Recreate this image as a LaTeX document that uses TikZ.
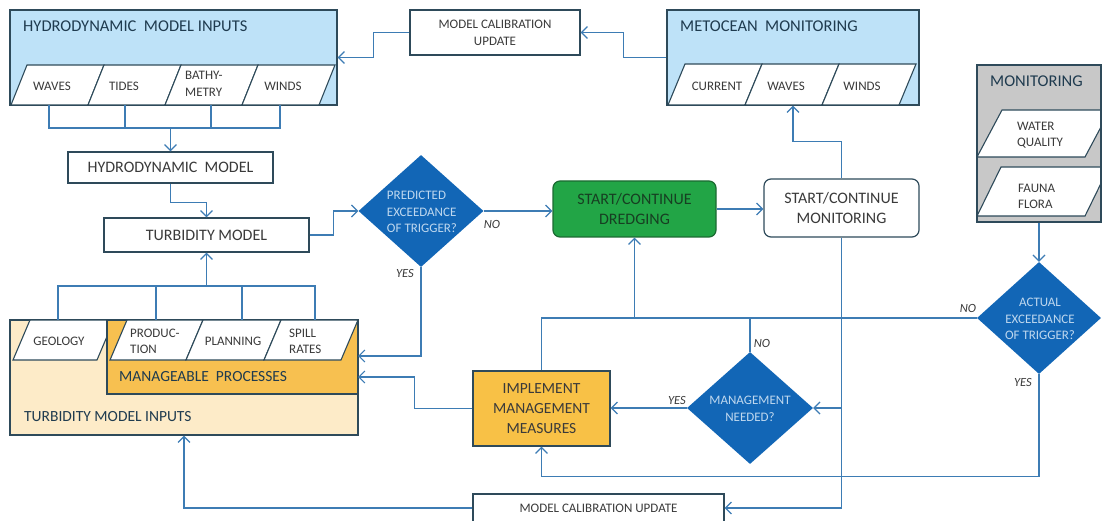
\documentclass[tikz,border=0pt]{standalone}
\usepackage{fontspec}
\setmainfont{Carlito}
\usetikzlibrary{arrows.meta,shapes.geometric}

\definecolor{edge}{HTML}{2E4A5A}
\definecolor{wire}{HTML}{3D7CB4}
\definecolor{skyfill}{HTML}{BEE2F8}
\definecolor{greyfill}{HTML}{C8C8C8}
\definecolor{peach}{HTML}{FDEBC8}
\definecolor{amber}{HTML}{F7C050}
\definecolor{amberbox}{HTML}{F8C146}
\definecolor{decision}{HTML}{1266B6}
\definecolor{decisiontext}{HTML}{BFD8EF}
\definecolor{dredgefill}{HTML}{22A546}
\definecolor{dredgeedge}{HTML}{1B6A31}
\definecolor{dredgetext}{HTML}{173F22}
\definecolor{titletext}{HTML}{1F3B4F}
\definecolor{labeltext}{HTML}{3A3A3A}

% parallelogram cell: bottom-left x, bottom y, width, height, slant
\newcommand{\plgm}[5]{\draw[stripcell] (#1,#2) -- ++(#3,0) -- ++(#5,-#4) -- ++(-#3,0) -- cycle;}

\begin{document}
\begin{tikzpicture}[x=1pt,y=-1pt,
  panel/.style={draw=edge, line width=1.2pt, inner sep=0, rectangle},
  box/.style={panel, fill=white, text=labeltext, align=center},
  stripcell/.style={draw=edge, line width=1.1pt, fill=white},
  decide/.style={diamond, fill=decision, draw=none, inner sep=0,
    minimum width=125, minimum height=112},
  dtext/.style={font=\fontsize{13}{16.5}\selectfont, text=decisiontext, align=center, inner sep=0},
  titletxt/.style={font=\fontsize{16.5}{19}\selectfont, text=titletext, anchor=west, inner sep=0},
  celltxt/.style={font=\fontsize{13}{16.5}\selectfont, text=labeltext, inner sep=0, align=center},
  celltxtl/.style={celltxt, align=left, anchor=west},
  answer/.style={font=\fontsize{12.5}{15}\selectfont\itshape, text=labeltext, inner sep=0},
  wire/.style={draw=wire, line width=1.4pt},
  flow/.style={wire, -{Straight Barb[length=6pt,width=12pt,line width=1.2pt]}}
]
\useasboundingbox (0,0) rectangle (1102,521);

% ---------------- hydrodynamic model inputs ----------------
\node[panel, fill=skyfill, minimum width=327, minimum height=95] (hyin) at (173.5,57.5) {};
\node[titletxt] (hyintitle) at (23,26) {HYDRODYNAMIC\ \ MODEL INPUTS};
\plgm{11}{105}{77}{40}{16}
\plgm{88}{105}{77}{40}{16}
\plgm{165}{105}{77}{40}{16}
\plgm{242}{105}{77}{40}{16}
\node[celltxt] (waves) at (52,86) {WAVES};
\node[celltxt] (tides) at (124,86) {TIDES};
\node[celltxtl] (bathy) at (185,84) {BATHY-\\METRY};
\node[celltxt] (winds) at (283,86) {WINDS};
\coordinate (waveB) at (49,105);
\coordinate (tideB) at (125,105);
\coordinate (bathyB) at (211,105);
\coordinate (windB) at (280,105);
\coordinate (hbus) at (171,128);

% ---------------- metocean monitoring ----------------
\node[panel, fill=skyfill, minimum width=252, minimum height=95] (meto) at (793,57.5) {};
\node[titletxt] (metotitle) at (680,26) {METOCEAN\ \ MONITORING};
\plgm{668}{105}{77}{41}{17}
\plgm{745}{105}{77}{41}{17}
\plgm{822}{105}{77}{41}{17}
\node[celltxt] (current) at (717,86) {CURRENT};
\node[celltxt] (mwaves) at (786,86) {WAVES};
\node[celltxt] (mwinds) at (862,86) {WINDS};

% ---------------- field monitoring ----------------
\node[panel, fill=greyfill, minimum width=124, minimum height=157] (monbox) at (1039,143.5) {};
\node[titletxt] (montitle) at (990,81) {MONITORING};
\begin{scope}
  \clip (977,65) rectangle (1101,222);
  \plgm{977}{157}{108}{47}{25}
  \plgm{977}{216}{108}{49}{24}
\end{scope}
\draw[draw=edge, line width=1.2pt] (977,65) rectangle (1101,222);
\node[celltxtl] (water) at (1017,135) {WATER\\QUALITY};
\node[celltxtl] (fauna) at (1018,196.5) {FAUNA\\FLORA};

% ---------------- calibration updates ----------------
\node[box, font=\fontsize{13}{17}\selectfont, minimum width=170, minimum height=45] (mcu1) at (495,32.5) {MODEL CALIBRATION\\UPDATE};
\node[box, font=\fontsize{13}{17}\selectfont, minimum width=251, minimum height=28] (mcu2) at (598.5,508) {MODEL CALIBRATION UPDATE};

% ---------------- models ----------------
\node[box, font=\fontsize{16}{19}\selectfont, minimum width=205, minimum height=31] (hm) at (170.5,167.5) {HYDRODYNAMIC\ \ MODEL};
\node[box, font=\fontsize{16}{19}\selectfont, minimum width=205, minimum height=34] (tm) at (206.5,235) {TURBIDITY MODEL};

% ---------------- turbidity model inputs ----------------
\node[panel, fill=peach, minimum width=348, minimum height=115] (tmi) at (184,377.5) {};
\plgm{13}{360}{84}{40}{17}
\node[panel, fill=amber, minimum width=251, minimum height=74] (manage) at (232.5,357) {};
\plgm{110}{360}{76}{40}{17}
\plgm{186}{360}{78}{40}{17}
\plgm{264}{360}{77}{40}{17}
\node[celltxt] (geology) at (59,341) {GEOLOGY};
\node[celltxtl] (produc) at (130,341.5) {PRODUC-\\TION};
\node[celltxt] (planning) at (233,341) {PLANNING};
\node[celltxtl] (spill) at (289,341.5) {SPILL\\RATES};
\node[titletxt, font=\fontsize{15.5}{19}\selectfont] (managetitle) at (119,377) {MANAGEABLE\ \ PROCESSES};
\node[titletxt, font=\fontsize{15.5}{19}\selectfont] (tmititle) at (24,417) {TURBIDITY MODEL INPUTS};
\coordinate (geoT) at (58,320);
\coordinate (prodT) at (156,320);
\coordinate (planT) at (242,320);
\coordinate (spillT) at (315,320);
\coordinate (tbus) at (207,286);
\coordinate (tmiA) at (358,356);
\coordinate (tmiB) at (358,377);

% ---------------- decisions ----------------
\node[decide] (d1) at (421,211) {};
\node[dtext, align=left] (d1t) at (422,212) {PREDICTED\\EXCEEDANCE\\OF TRIGGER?};
\node[decide, minimum width=124] (d2) at (1039,318) {};
\node[dtext] (d2t) at (1040,319) {ACTUAL\\EXCEEDANCE\\OF TRIGGER?};
\node[decide, minimum width=126] (d3) at (750,408) {};
\node[dtext] (d3t) at (750,409) {MANAGEMENT\\NEEDED?};

% ---------------- actions ----------------
\node[box, fill=dredgefill, draw=dredgeedge, text=dredgetext, rounded corners=7pt,
  font=\fontsize{16}{20}\selectfont, minimum width=163, minimum height=56] (dredge) at (634.5,209) {START/CONTINUE\\DREDGING};
\node[box, rounded corners=7pt, font=\fontsize{16}{19.5}\selectfont,
  minimum width=155, minimum height=58] (mon) at (841.5,208) {START/CONTINUE\\MONITORING};
\node[box, fill=amberbox, draw=edge, font=\fontsize{15.5}{20}\selectfont,
  minimum width=137, minimum height=75] (impl) at (541.5,408.5) {IMPLEMENT\\MANAGEMENT\\MEASURES};

% ---------------- connectors ----------------
% hydrodynamic inputs bus
\draw[wire] (waveB) |- (hbus) -| (windB);
\draw[wire] (tideB) -- (tideB |- hbus);
\draw[wire] (bathyB) -- (bathyB |- hbus);
\draw[flow] (hm.north |- hbus) -- (hm.north);
% turbidity inputs bus
\draw[wire] (geoT) |- (tbus) -| (spillT);
\draw[wire] (prodT) -- (prodT |- tbus);
\draw[wire] (planT) -- (planT |- tbus);
\draw[flow] (tm.south |- tbus) -- (tm.south);

% model chain
\draw[flow] (hm.south) -- ++(0,19) -| (tm.north);
\draw[flow] (tm.east) -- ++(24,0) |- (d1.west);
\draw[flow] (d1.east) -- (d1.east -| dredge.west);
\draw[flow] (dredge.east) -- (dredge.east -| mon.west);

% calibration loop at the top
\draw[flow] (meto.west) -- ++(-43,0) |- (mcu1.east);
\draw[flow] (mcu1.west) -- ++(-36,0) |- (hyin.east);
\draw[flow] (mon.north) -- ++(0,-37) -| (meto.south);

% monitoring trunk
\draw[flow] (mon.south) |- (mcu2.east);
\draw[flow] (mon.south |- d3.east) -- (d3.east);
\draw[flow] (mcu2.west) -| (tmi.south);

% management loop
\draw[flow] (d3.west) -- (d3.west -| impl.east);
\draw[wire] (d3.north) -- (d3.north |- d2.west);
\draw[wire] (d2.west) -- (d2.west -| impl.north) -- (impl.north);
\draw[flow] (dredge.south |- d2.west) -- (dredge.south);
\draw[flow] (d2.south) -- ++(0,102) -| (impl.south);
\draw[flow] (monbox.south) -- (d2.north);
\draw[flow] (d1.south) -- (d1.south |- tmiA) -- (tmiA);
\draw[flow] (impl.west) -- ++(-58,0) |- (tmiB);

% decision answers
\node[answer] (d1no) at (492,224) {NO};
\node[answer] (d1yes) at (405,273) {YES};
\node[answer] (d2no) at (968,308) {NO};
\node[answer] (d2yes) at (1023,382) {YES};
\node[answer] (d3no) at (762,343) {NO};
\node[answer] (d3yes) at (677,400) {YES};
\end{tikzpicture}
\end{document}
